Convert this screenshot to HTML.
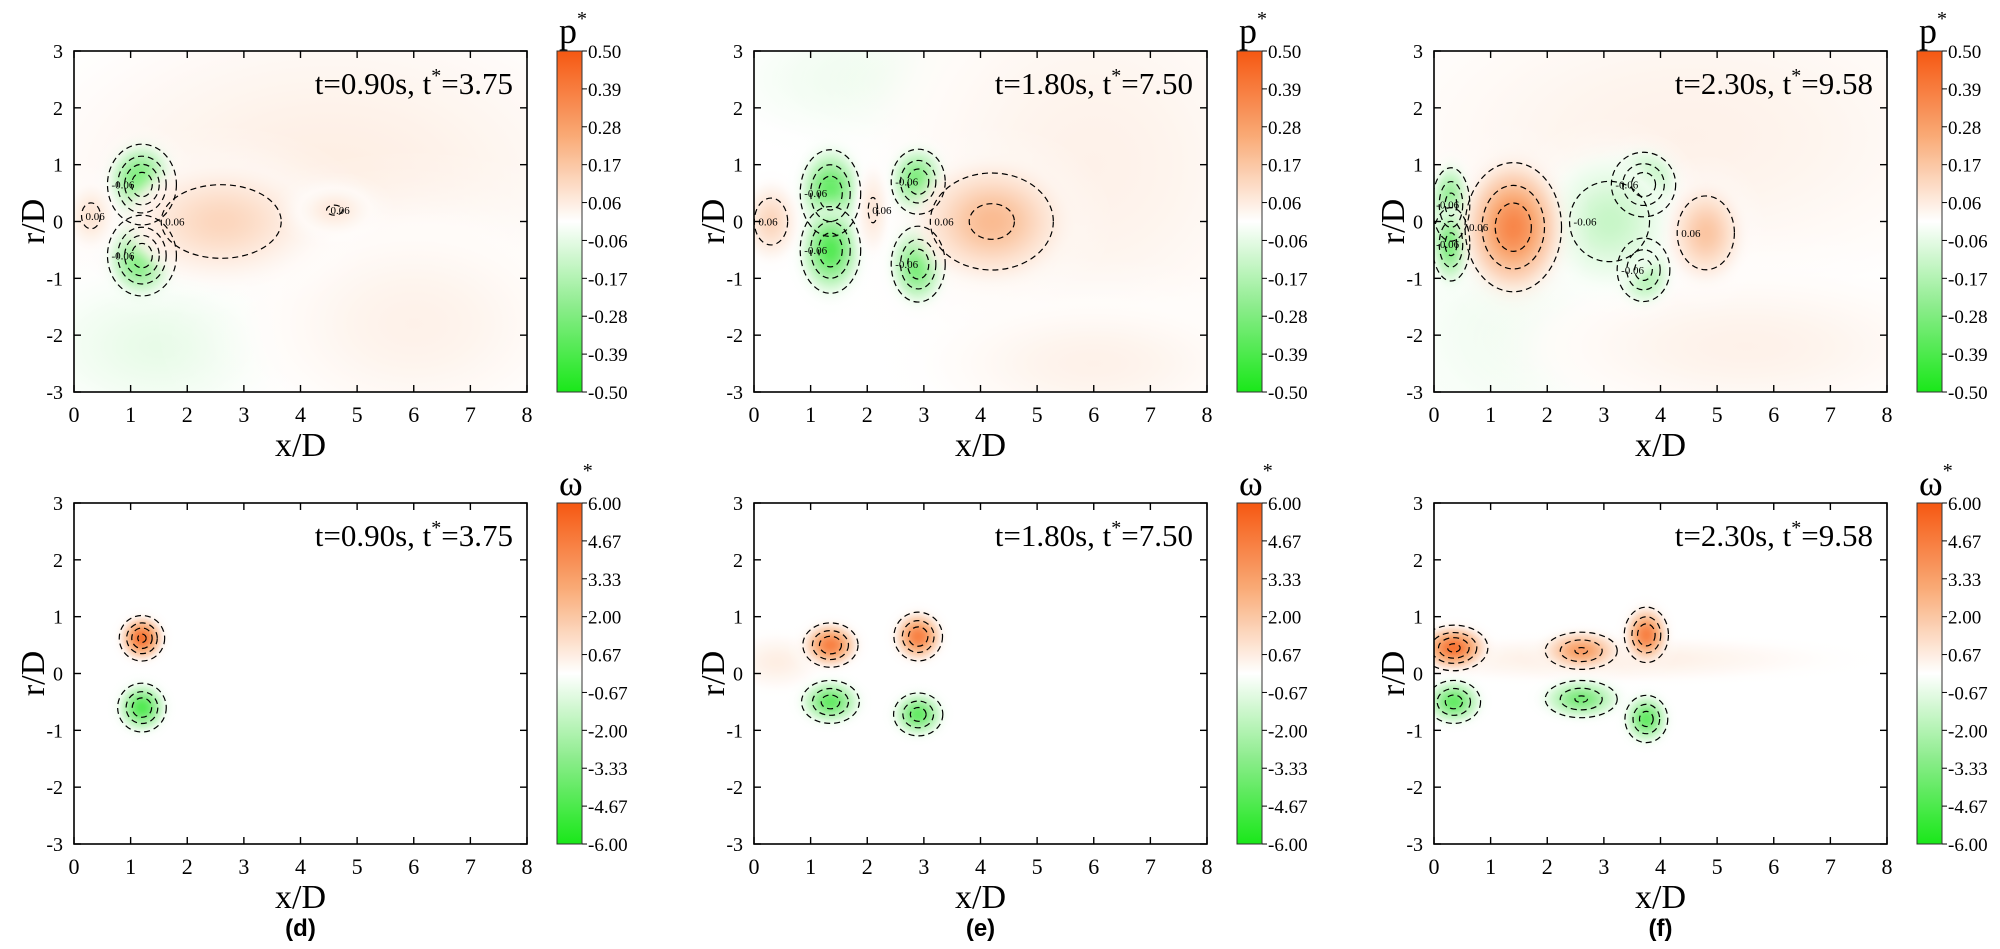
<!DOCTYPE html>
<html><head><meta charset="utf-8"><style>
html,body{margin:0;padding:0;background:#fff;width:2000px;height:949px;overflow:hidden}
svg{display:block}
text{font-family:"Liberation Serif",serif;fill:#000}
</style></head><body>
<svg id="fig" width="2000" height="949" viewBox="0 0 2000 949"></svg>
<script>
// ---- data ----
const xTicks=[0,1,2,3,4,5,6,7,8];
const yTicks=[3,2,1,0,-1,-2,-3];
const pCbarTicks=["0.50","0.39","0.28","0.17","0.06","-0.06","-0.17","-0.28","-0.39","-0.50"];
const wCbarTicks=["6.00","4.67","3.33","2.00","0.67","-0.67","-2.00","-3.33","-4.67","-6.00"];
const pLevels=[0.06,0.17,0.28,0.39];
const wLevels=[0.67,2.0,3.33,4.67];
const titles=["t=0.90s, t*=3.75","t=1.80s, t*=7.50","t=2.30s, t*=9.58"];
// blobs: [x/D, r/D, amplitude, sigmaX, sigmaR]
const blobsA=[[1.2,0.65,-0.47,0.3,0.35],[1.2,-0.6,-0.47,0.3,0.35],[2.6,0,0.12,0.9,0.55],[0.3,0.1,0.08,0.22,0.3],[4.6,0.2,0.065,0.35,0.22]];
const blobsB=[[1.35,0.5,-0.37,0.28,0.4],[1.35,-0.5,-0.37,0.28,0.4],[2.9,0.7,-0.37,0.25,0.3],[2.9,-0.75,-0.37,0.25,0.35],[4.2,0,0.2,0.7,0.55],[0.3,0,0.12,0.25,0.35],[2.1,0.2,0.07,0.15,0.4]];
const blobsC=[[0.3,0.3,-0.33,0.18,0.35],[0.3,-0.4,-0.33,0.18,0.35],[3.7,0.65,-0.36,0.3,0.3],[3.7,-0.85,-0.34,0.25,0.3],[3.1,0,-0.12,0.6,0.6],[1.4,-0.1,0.36,0.45,0.6],[4.8,-0.2,0.17,0.35,0.45]];
const blobsD=[[1.2,0.62,5,0.2,0.2],[1.2,-0.6,-4.5,0.22,0.22]];
const blobsE=[[1.35,0.5,4.5,0.25,0.2],[2.9,0.65,4.5,0.22,0.22],[1.35,-0.5,-4,0.27,0.2],[2.9,-0.72,-4,0.23,0.2]];
const blobsF=[[0.35,0.45,5,0.3,0.2],[2.6,0.4,3.5,0.35,0.18],[3.75,0.68,4.5,0.2,0.25],[0.35,-0.5,-4,0.25,0.2],[2.6,-0.45,-3.5,0.35,0.18],[3.75,-0.8,-4,0.2,0.22]];
// background washes (no contours)
const washA=[[4.5,0.8,0.05,2.8,1.6],[1.5,-2.2,-0.05,1.2,0.7],[6,-1.8,0.04,1.5,1]];
const washB=[[2.5,2.5,-0.05,1.5,0.6],[6,1,0.04,2,2],[6,-2.5,0.04,1.5,0.6]];
const washC=[[4.5,1.5,0.04,3,1.5],[1.5,-2,-0.04,1.2,1],[5.5,-2.2,0.04,2,0.7]];
const washD=[],washE=[[0.4,0.2,0.6,0.4,0.25]],washF=[[3,0.25,0.6,2,0.2]];

const panels=[
 {L:74,T:51,id:"a",blobs:blobsA,wash:washA,max:0.5,levels:pLevels,cb:pCbarTicks,sym:"p",title:titles[0]},
 {L:754,T:51,id:"b",blobs:blobsB,wash:washB,max:0.5,levels:pLevels,cb:pCbarTicks,sym:"p",title:titles[1]},
 {L:1434,T:51,id:"c",blobs:blobsC,wash:washC,max:0.5,levels:pLevels,cb:pCbarTicks,sym:"p",title:titles[2]},
 {L:74,T:503,id:"d",blobs:blobsD,wash:washD,max:6,levels:wLevels,cb:wCbarTicks,sym:"ω",title:titles[0],tag:"(d)"},
 {L:754,T:503,id:"e",blobs:blobsE,wash:washE,max:6,levels:wLevels,cb:wCbarTicks,sym:"ω",title:titles[1],tag:"(e)"},
 {L:1434,T:503,id:"f",blobs:blobsF,wash:washF,max:6,levels:wLevels,cb:wCbarTicks,sym:"ω",title:titles[2],tag:"(f)"}
];
const W=453,H=341;
const NS="http://www.w3.org/2000/svg";
const svg=document.getElementById('fig');
const defs=document.createElementNS(NS,'defs');svg.appendChild(defs);
function mk(tag,attrs,parent){const e=document.createElementNS(NS,tag);for(const k in attrs)e.setAttribute(k,attrs[k]);(parent||svg).appendChild(e);return e;}
function lerp(a,b,t){return a.map((v,i)=>Math.round(v+(b[i]-v)*t));}
function cmap(t){ // t in [-1,1]
 t=Math.max(-1,Math.min(1,t));
 let c;
 if(t>=0){c=t<0.5?lerp([255,255,255],[249,170,118],t/0.5):lerp([249,170,118],[246,88,18],(t-0.5)/0.5);}
 else{const u=-t;c=u<0.5?lerp([255,255,255],[140,236,140],u/0.5):lerp([140,236,140],[25,232,25],(u-0.5)/0.5);}
 return `rgb(${c[0]},${c[1]},${c[2]})`;
}
let gid=0;
panels.forEach((p)=>{
 const g=mk('g',{});
 
 
 const sx=v=>p.L+v/8*W, sy=v=>p.T+(3-v)/6*H;
 const clip=mk('clipPath',{id:'clip'+p.id},defs);mk('rect',{x:p.L,y:p.T,width:W,height:H},clip);
 const field=mk('g',{'clip-path':`url(#clip${p.id})`},g);
 
 
 const drawBlob=(b)=>{
  const id='rg'+(gid++);
  const rg=mk('radialGradient',{id:id},defs);
  for(let i=0;i<=12;i++){const o=i/12;const r=3*o;const gv=Math.exp(-r*r/2);
   mk('stop',{offset:o,'stop-color':cmap(b[2]*gv/p.max),'stop-opacity':Math.min(1,gv/0.25)},rg);}
  const el=mk('ellipse',{cx:sx(b[0]),cy:sy(b[1]),rx:3*b[3]/8*W,ry:3*b[4]/6*H,fill:`url(#${id})`},field);
  
  
 };
 p.wash.forEach(drawBlob);p.blobs.forEach(drawBlob);
 // contours
 p.blobs.forEach(b=>{
  const A=Math.abs(b[2]);let first=true;
  p.levels.forEach(Lv=>{
   if(A<=Lv*1.02)return;
   const k=Math.sqrt(2*Math.log(A/Lv));
   const c=mk('ellipse',{cx:sx(b[0]),cy:sy(b[1]),rx:k*b[3]/8*W,ry:k*b[4]/6*H,fill:'none',stroke:'#000','stroke-width':1.2,'stroke-dasharray':'6,4'},field);
   
   
   if(first&&p.max<1){const t=mk('text',{x:sx(b[0])-k*b[3]/8*W+4,y:sy(b[1])+4,'font-size':11},field);t.textContent=(b[2]<0?'-':'')+Lv.toFixed(2);
    }
   first=false;
  });
 });
 // frame
 const fr=mk('rect',{x:p.L,y:p.T,width:W,height:H,fill:'none',stroke:'#000','stroke-width':1.6},g);
 
 xTicks.forEach(v=>{const x=sx(v);
  mk('line',{x1:x,x2:x,y1:p.T+H,y2:p.T+H-7,stroke:'#000','stroke-width':1.4},g);
  mk('line',{x1:x,x2:x,y1:p.T,y2:p.T+7,stroke:'#000','stroke-width':1.4},g);
  const t=mk('text',{x:x,y:p.T+H+30,'font-size':22,'text-anchor':'middle'},g);t.textContent=v;
  });
 yTicks.forEach(v=>{const y=sy(v);
  mk('line',{x1:p.L,x2:p.L+7,y1:y,y2:y,stroke:'#000','stroke-width':1.4},g);
  mk('line',{x1:p.L+W,x2:p.L+W-7,y1:y,y2:y,stroke:'#000','stroke-width':1.4},g);
  const t=mk('text',{x:p.L-11,y:y+7,'font-size':20,'text-anchor':'end'},g);t.textContent=v;
  });
 const xl=mk('text',{x:p.L+W/2,y:p.T+H+64,'font-size':34,'text-anchor':'middle'},g);xl.textContent='x/D';
 
 const yl=mk('text',{x:0,y:0,'font-size':34,'text-anchor':'middle',transform:`translate(${p.L-30},${p.T+H/2}) rotate(-90)`},g);yl.textContent='r/D';
 
 const tt=mk('text',{x:p.L+W-14,y:p.T+43,'font-size':31,'text-anchor':'end'},g);
 const parts=p.title.split('*');tt.appendChild(document.createTextNode(parts[0]));
 const sup=mk('tspan',{dy:-12,'font-size':20},tt);sup.textContent='*';
 const rest=mk('tspan',{dy:12},tt);rest.textContent=parts[1];
 
 if(p.tag){const tg=mk('text',{x:p.L+W/2,y:p.T+H+92,'font-size':24,'font-weight':'bold','text-anchor':'middle',style:'font-family:"Liberation Sans",sans-serif'},g);tg.textContent=p.tag;
  }
 // colorbar
 const cbx=p.L+483,cbw=25;
 const lg=mk('linearGradient',{id:'cb'+p.id,x1:0,y1:0,x2:0,y2:1},defs);
 for(let i=0;i<=40;i++){mk('stop',{offset:i/40,'stop-color':cmap(1-2*i/40)},lg);}
 const cb=mk('rect',{x:cbx,y:p.T,width:cbw,height:H,fill:`url(#cb${p.id})`,stroke:'#333','stroke-width':1},g);
 
 p.cb.forEach((lab,i)=>{const y=p.T+i/(p.cb.length-1)*H;
  mk('line',{x1:cbx+cbw,x2:cbx+cbw+5,y1:y,y2:y,stroke:'#000','stroke-width':1},g);
  const t=mk('text',{x:cbx+cbw+6,y:y+7,'font-size':19},g);t.textContent=lab;
  });
 const ct=mk('text',{x:cbx+2,y:p.T-8,'font-size':36},g);ct.textContent=p.sym;
 const cs=mk('tspan',{dy:-18,'font-size':20},ct);cs.textContent='*';
 
});
</script>
</body></html>
